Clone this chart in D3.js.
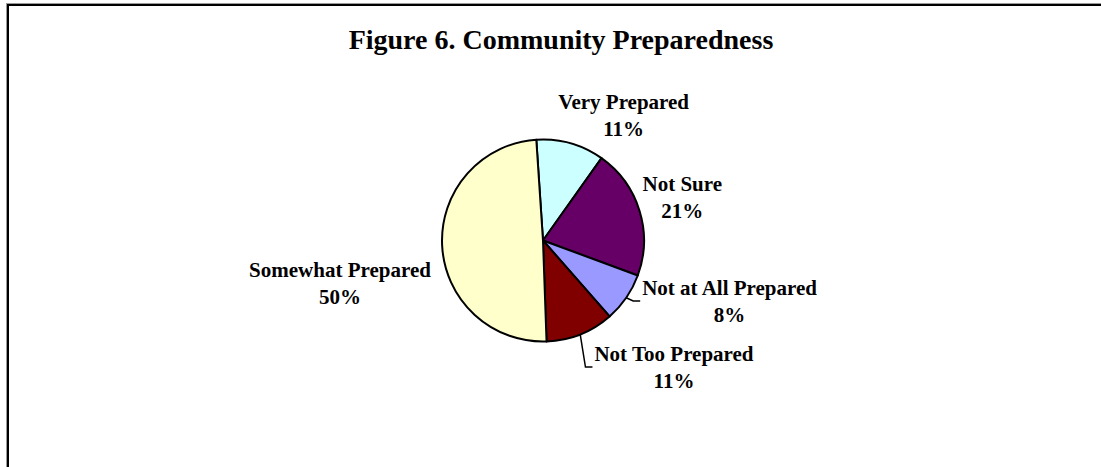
<!DOCTYPE html>
<html>
<head>
<meta charset="utf-8">
<script src="https://cdn.jsdelivr.net/npm/d3@7"></script>
<style>
  html, body { margin: 0; padding: 0; background: #fff; }
  svg { display: block; }
  text { font-family: "Liberation Serif", "Times New Roman", serif; font-weight: bold; fill: #000; }
</style>
</head>
<body>
<svg id="chart" width="1101" height="467"></svg>
<script>
// Survey answers, in the order the slices run clockwise
const categories = ["Very Prepared", "Not Sure", "Not at All Prepared", "Not Too Prepared", "Somewhat Prepared"];
const percents = [11, 21, 8, 11, 50];
const colors = ["#CCFFFF", "#660066", "#9999FF", "#800000", "#FFFFCC"];
const titleText = "Figure 6. Community Preparedness";

// Label placement relative to the pie centre (first-line baseline) and which labels get leader lines
const labelOffsets = [[80.6, -131.2], [139.3, -49.5], [186.6, 54.5], [131, 120.5], [-203, 36.2]];
const hasLeader = [false, false, true, true, false];

const W = 1101, H = 467;
const cx = 543, cy = 240.5, radius = 101;
const startDeg = -3.8;
const lineGap = 27;

const svg = d3.select("#chart");

// Chart frame (runs off the right and bottom edges)
svg.append("rect")
  .attr("x", 6.5).attr("y", 3.5)
  .attr("width", W + 60).attr("height", H + 60)
  .attr("fill", "none").attr("stroke", "#999").attr("stroke-width", 1);
svg.append("rect")
  .attr("x", 8).attr("y", 5)
  .attr("width", W + 60).attr("height", H + 60)
  .attr("fill", "none").attr("stroke", "#000").attr("stroke-width", 2);

// Title
svg.append("text")
  .attr("x", 561).attr("y", 48.5)
  .attr("text-anchor", "middle")
  .style("font-size", "28px")
  .text(titleText);

const rad = d => d * Math.PI / 180;
const pie = d3.pie().sort(null).value(d => d.value)
  .startAngle(rad(startDeg)).endAngle(rad(startDeg) + 2 * Math.PI);
const arc = d3.arc().innerRadius(0).outerRadius(radius);

const data = categories.map((c, i) => ({ name: c, value: percents[i], color: colors[i], i }));
const arcs = pie(data);

const g = svg.append("g").attr("transform", `translate(${cx},${cy})`);

g.selectAll("path.slice")
  .data(arcs)
  .join("path")
  .attr("class", "slice")
  .attr("d", arc)
  .attr("fill", d => d.data.color)
  .attr("stroke", "#000")
  .attr("stroke-width", 2)
  .attr("stroke-linejoin", "round");

// Data labels: category name on the first line, percentage on the second
arcs.forEach(d => {
  const [ox, oy] = labelOffsets[d.data.i];
  const lab = g.append("g").attr("class", "label");
  const t1 = lab.append("text")
    .attr("x", ox).attr("y", oy)
    .attr("text-anchor", "middle")
    .style("font-size", "21px")
    .text(d.data.name);
  lab.append("text")
    .attr("x", ox).attr("y", oy + lineGap)
    .attr("text-anchor", "middle")
    .style("font-size", "21px")
    .text(d.data.value + "%");

  if (hasLeader[d.data.i]) {
    const w = t1.node().getComputedTextLength();
    const mid = (d.startAngle + d.endAngle) / 2;
    const sx = Math.sin(mid) * radius, sy = -Math.cos(mid) * radius;
    const ex = ox - w / 2 - 2, ey = oy + 6;
    g.append("path")
      .attr("d", `M${sx},${sy} L${ex - 7},${ey} L${ex},${ey}`)
      .attr("fill", "none")
      .attr("stroke", "#000")
      .attr("stroke-width", 1.5);
  }
});
</script>
</body>
</html>
